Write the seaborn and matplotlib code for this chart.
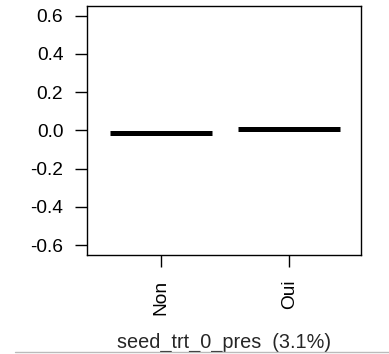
import matplotlib
matplotlib.use("Agg")
import matplotlib.pyplot as plt
import seaborn as sns
import pandas as pd
from matplotlib.lines import Line2D

categories = ["Non", "Oui"]
values = [-0.012, 0.008]
yticks = [0.6, 0.4, 0.2, 0.0, -0.2, -0.4, -0.6]
xlabel = "seed_trt_0_pres  (3.1%)"

sns.set_theme(style="ticks")
plt.rcParams["font.family"] = ["Liberation Sans", "DejaVu Sans"]

df = pd.DataFrame({"cat": categories, "val": values})

fig = plt.figure(figsize=(3.89, 3.54), dpi=100)
ax = fig.add_axes([87/389, 1-255/354, (361-87)/389, (255-6)/354])

sns.scatterplot(data=df, x="cat", y="val", marker="_", s=73**2,
                linewidth=3.6, color="black", ax=ax, legend=False)

ax.set_xlim(-0.58, 1.56)
ax.set_ylim(-0.652, 0.651)
ax.set_yticks(yticks)
ax.set_yticklabels([f"{v:.1f}" for v in yticks])
ax.set_xticks([0, 1])
ax.set_xticklabels(categories, rotation=90)
ax.set_xlabel(xlabel, fontsize=14.3, labelpad=13)
ax.set_ylabel("")
for s in ax.spines.values():
    s.set_visible(True)
    s.set_color("black")
    s.set_linewidth(1.0)
ax.tick_params(axis="both", direction="out", length=8.6, width=1.0,
               color="black", labelsize=13.8, labelcolor="black")
ax.tick_params(axis="y", pad=8.5)
ax.tick_params(axis="x", pad=9)

fig.add_artist(Line2D([15/389, 1.0], [1-352/354, 1-352/354],
                      transform=fig.transFigure, color="#bbbbbb", lw=1))

fig.savefig("out.png", dpi=100)
